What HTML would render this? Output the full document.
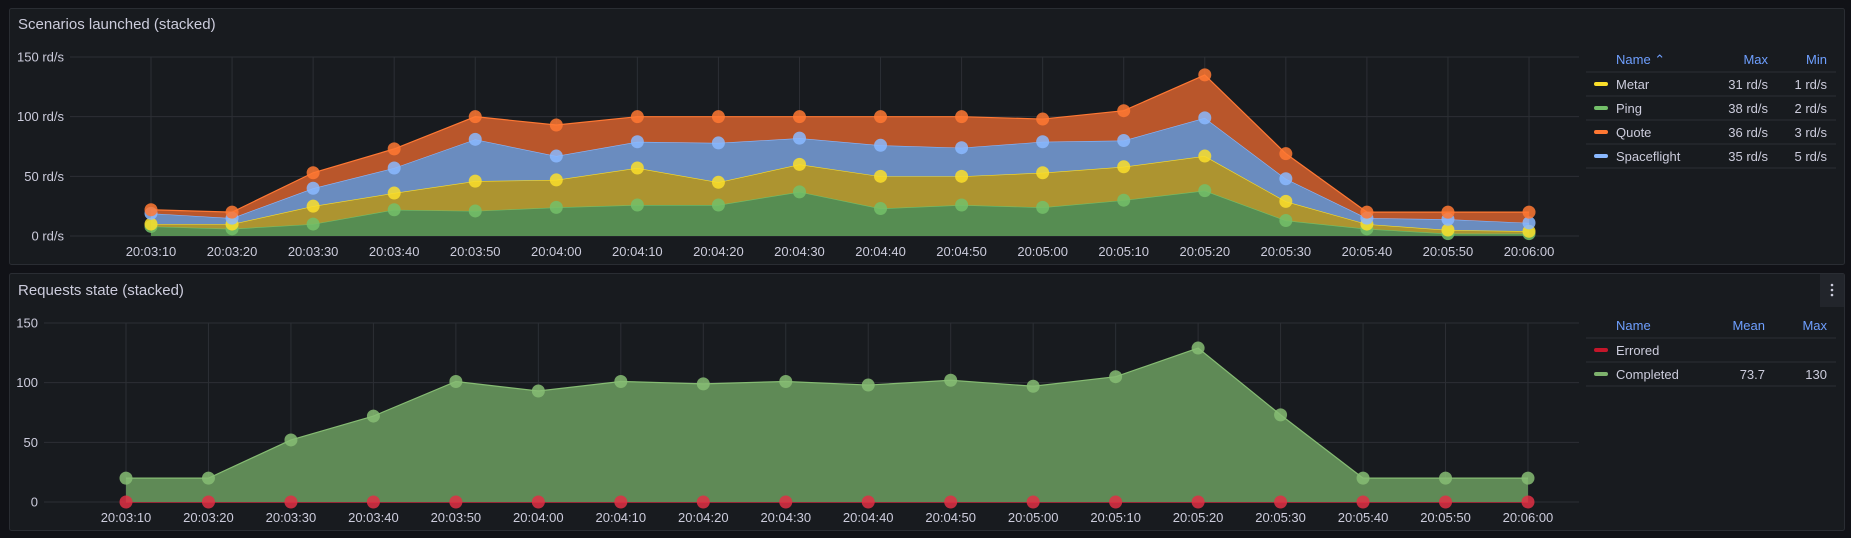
<!DOCTYPE html>
<html><head><meta charset="utf-8"><style>
body{margin:0;background:#111217;width:1851px;height:538px;overflow:hidden;font-family:"Liberation Sans",sans-serif}
svg{display:block}
</style></head><body>
<svg id="s" width="1851" height="538" font-family="Liberation Sans, sans-serif">
<rect x="9.5" y="8.5" width="1835" height="256" fill="#181b1f" stroke="#2a2d33" rx="2"/>
<text x="18" y="29" fill="#ccccdc" font-size="15">Scenarios launched (stacked)</text>
<rect x="9.5" y="273.5" width="1835" height="257" fill="#181b1f" stroke="#2a2d33" rx="2"/>
<text x="18" y="295" fill="#ccccdc" font-size="15">Requests state (stacked)</text>
<rect x="1820" y="274" width="24" height="33" fill="#22252b"/>
<g fill="#ccccdc"><circle cx="1832" cy="285" r="1.3"/><circle cx="1832" cy="290" r="1.3"/><circle cx="1832" cy="295" r="1.3"/></g>
<g id="topG"></g><g id="botG"></g>
<g font-size="13">
<text x="1616" y="64" fill="#6e9fff">Name ⌃</text>
<text x="1768" y="64" fill="#6e9fff" text-anchor="end">Max</text>
<text x="1827" y="64" fill="#6e9fff" text-anchor="end">Min</text>
</g>
<g font-size="13">
<text x="1616" y="330" fill="#6e9fff">Name</text>
<text x="1765" y="330" fill="#6e9fff" text-anchor="end">Mean</text>
<text x="1827" y="330" fill="#6e9fff" text-anchor="end">Max</text>
</g>
</svg>
<script>
const times=["20:03:10","20:03:20","20:03:30","20:03:40","20:03:50","20:04:00","20:04:10","20:04:20","20:04:30","20:04:40","20:04:50","20:05:00","20:05:10","20:05:20","20:05:30","20:05:40","20:05:50","20:06:00"];
const ping=[8,6,10,22,21,24,26,26,37,23,26,24,30,38,13,6,2,2];
const metar=[2,4,15,14,25,23,31,19,23,27,24,29,28,29,16,4,3,2];
const spaceflight=[9,5,15,21,35,20,22,33,22,26,24,26,22,32,19,5,9,7];
const quote=[3,5,13,16,19,26,21,22,18,24,26,19,25,36,21,5,6,9];
const completed=[20,20,52,72,101,93,101,99,101,98,102,97,105,129,73,20,20,20];
const errored=[0,0,0,0,0,0,0,0,0,0,0,0,0,0,0,0,0,0];
const topTicks=[0,50,100,150];
const topTickLabels=["0 rd/s","50 rd/s","100 rd/s","150 rd/s"];
const botTicks=[0,50,100,150];
const botTickLabels=["0","50","100","150"];
const topLegend=[["Metar","31 rd/s","1 rd/s","#fade2a"],["Ping","38 rd/s","2 rd/s","#73bf69"],["Quote","36 rd/s","3 rd/s","#ff7833"],["Spaceflight","35 rd/s","5 rd/s","#8ab8ff"]];
const botLegend=[["Errored","","","#c4162a"],["Completed","73.7","130","#7eb26d"]];

const NS="http://www.w3.org/2000/svg";
function mk(p,t,a){const e=document.createElementNS(NS,t);for(const k in a)e.setAttribute(k,a[k]);p.appendChild(e);return e;}
function axes(g,o){
  const xs=i=>o.x0+i*o.dx, ys=v=>o.y0-(v/150)*(o.y0-o.y150);
  o.ticks.forEach((v,i)=>{
    const l=mk(g,'line',{x1:o.left,x2:o.right,y1:ys(v),y2:ys(v),stroke:'#2c2f35'});
    
    
    const t=mk(g,'text',{x:o.left-6,y:ys(v)+4.5,'text-anchor':'end',fill:'#ccccdc','font-size':13});
    t.textContent=o.labels[i];
    
    
  });
  times.forEach((tm,i)=>{
    const l=mk(g,'line',{x1:xs(i),x2:xs(i),y1:o.y150,y2:o.y0,stroke:'#2c2f35'});
    
    
    const t=mk(g,'text',{x:xs(i),y:o.y0+20,'text-anchor':'middle',fill:'#ccccdc','font-size':13});
    t.textContent=tm;
    
    
  });
  return [xs,ys];
}
function stackDraw(g,xs,ys,series,names){
  let base=times.map(()=>0);
  const layers=[];
  series.forEach((s,k)=>{const tp=base.map((b,i)=>b+s[i]);layers.push([base,tp]);base=tp;});
  layers.forEach(([b,t],k)=>{
    const c=names[k];
    let d='M'+t.map((v,i)=>xs(i)+','+ys(v)).join('L');
    for(let i=b.length-1;i>=0;i--)d+='L'+xs(i)+','+ys(b[i]);
    const a=mk(g,'path',{d:d+'Z',fill:c.fill});
    
    
    const ln=mk(g,'polyline',{points:t.map((v,i)=>xs(i)+','+ys(v)).join(' '),fill:'none',stroke:c.line,'stroke-width':1.2});
    
    
  });
  layers.forEach(([b,t],k)=>{
    const c=names[k];
    t.forEach((v,i)=>{
      const p=mk(g,'circle',{cx:xs(i),cy:ys(v),r:6.5,fill:c.line,'fill-opacity':0.85});
      
      
    });
  });
}
const topG=document.getElementById('topG');
let [xs,ys]=axes(topG,{x0:151,dx:81.06,y0:236,y150:57,left:70,right:1579,ticks:topTicks,labels:topTickLabels});
stackDraw(topG,xs,ys,[ping,metar,spaceflight,quote],[
 {name:'ping',fill:'#568d52',line:'#73bf69'},
 {name:'metar',fill:'#ad9430',line:'#fade2a'},
 {name:'spaceflight',fill:'#6a8cbf',line:'#8ab8ff'},
 {name:'quote',fill:'#b9562b',line:'#ff7833'}]);
const botG=document.getElementById('botG');
[xs,ys]=axes(botG,{x0:126,dx:82.47,y0:502,y150:323,left:44,right:1579,ticks:botTicks,labels:botTickLabels});
stackDraw(botG,xs,ys,[errored,completed],[
 {name:'errored',fill:'#c4162a',line:'#e02f44'},
 {name:'completed',fill:'#5f8a56',line:'#86bc73'}]);

function legend(rows,y0,c1,c2){
  const s=document.getElementById('s');
  mk(s,'line',{x1:1586,x2:1836,y1:y0-6,y2:y0-6,stroke:'#2c2f35'});
  rows.forEach((r,i)=>{
    const y=y0+i*24;
    const g=mk(s,'g',{'font-size':13});
    
    
    mk(g,'rect',{x:1594,y:y+4,width:14,height:4,rx:2,fill:r[3]});
    mk(g,'text',{x:1616,y:y+11,fill:'#ccccdc'}).textContent=r[0];
    mk(g,'text',{x:c1,y:y+11,fill:'#ccccdc','text-anchor':'end'}).textContent=r[1];
    mk(g,'text',{x:c2,y:y+11,fill:'#ccccdc','text-anchor':'end'}).textContent=r[2];
    mk(g,'line',{x1:1586,x2:1836,y1:y+18,y2:y+18,stroke:'#2c2f35'});
  });
}
legend(topLegend,78,1768,1827);
legend(botLegend,344,1765,1827);
</script>
</body></html>
